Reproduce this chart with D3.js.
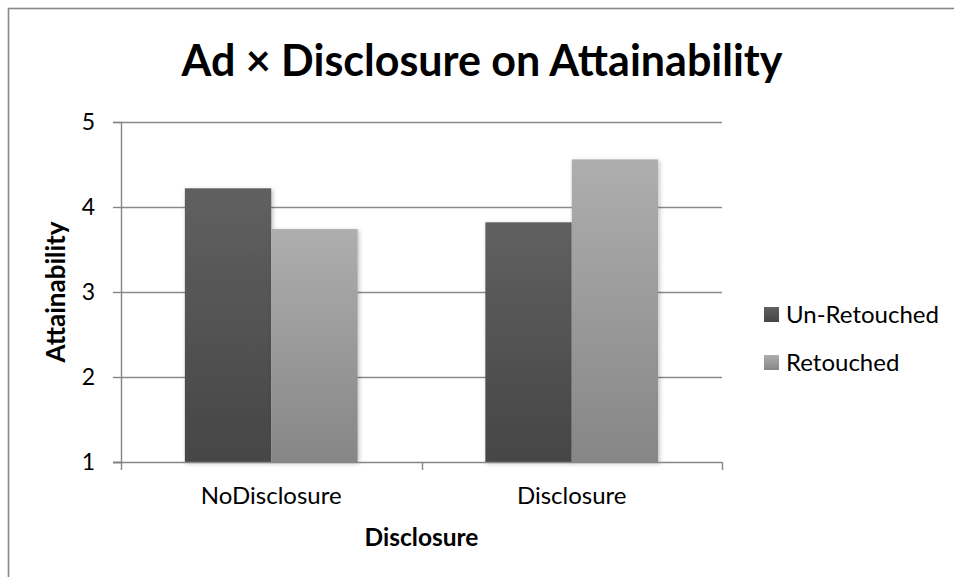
<!DOCTYPE html>
<html>
<head>
<meta charset="utf-8">
<script src="https://cdn.jsdelivr.net/npm/d3@7"></script>
<style>
  body { margin: 0; background: #fff; }
  svg { display: block; }
  text { font-family: Lato, "Open Sans", sans-serif; fill: #000; }
</style>
</head>
<body>
<svg id="chart" width="954" height="577"></svg>
<script>
// chart values
var categories = ["NoDisclosure", "Disclosure"];
var seriesNames = ["Un-Retouched", "Retouched"];
var unRetouched = [4.22, 3.82];
var retouched = [3.74, 4.56];
var yTicks = [1, 2, 3, 4, 5];

var svg = d3.select("#chart");
var margin = {left: 121, right: 232, top: 122, bottom: 115};
var width = 954 - margin.left - margin.right,
    height = 577 - margin.top - margin.bottom;

var rows = categories.map(function(c, i) {
  return {cat: c, values: [unRetouched[i], retouched[i]]};
});

// gradients + shadow
var defs = svg.append("defs");
var grads = [["gDark", "#606060", "#464646"], ["gLight", "#aeaeae", "#868686"]];
grads.forEach(function(g) {
  var lg = defs.append("linearGradient").attr("id", g[0])
      .attr("x1", 0).attr("y1", 0).attr("x2", 0).attr("y2", 1);
  lg.append("stop").attr("offset", "0%").attr("stop-color", g[1]);
  lg.append("stop").attr("offset", "100%").attr("stop-color", g[2]);
});
var f = defs.append("filter").attr("id", "shadow")
    .attr("x", "-10%").attr("y", "-10%").attr("width", "130%").attr("height", "130%");
f.append("feDropShadow").attr("dx", 1.5).attr("dy", 1.5).attr("stdDeviation", 2)
    .attr("flood-color", "#000").attr("flood-opacity", 0.25);
var fills = ["url(#gDark)", "url(#gLight)"];

// outer frame
svg.append("rect")
    .attr("x", 8.5).attr("y", 8.5).attr("width", 980).attr("height", 620)
    .attr("fill", "none").attr("stroke", "#878787").attr("stroke-width", 1.6);

// title
svg.append("text")
    .attr("x", 482).attr("y", 76)
    .attr("text-anchor", "middle")
    .attr("font-weight", "bold")
    .attr("font-size", 43)
    .text("Ad \u00d7 Disclosure on Attainability");

var g = svg.append("g").attr("transform", "translate(" + margin.left + "," + margin.top + ")");

var y = d3.scaleLinear().domain([1, 5]).range([height, 0]);
var x = d3.scaleBand().domain(categories).range([0, width])
    .paddingInner(0.425).paddingOuter(0.2125);
var xs = d3.scaleBand().domain(seriesNames).range([0, x.bandwidth()]);

// gridlines
g.append("g").selectAll("line")
  .data(yTicks.slice(1))
  .enter().append("line")
    .attr("x1", 0).attr("x2", width)
    .attr("y1", function(d) { return Math.round(y(d)) + 0.5; })
    .attr("y2", function(d) { return Math.round(y(d)) + 0.5; })
    .attr("stroke", "#8a8a8a").attr("stroke-width", 1.4);

// bars
var groups = g.append("g").selectAll("g")
  .data(rows)
  .enter().append("g")
    .attr("transform", function(d) { return "translate(" + x(d.cat) + ",0)"; });

groups.selectAll("rect")
  .data(function(d) { return d.values.map(function(v, i) { return {key: seriesNames[i], value: v, i: i}; }); })
  .enter().append("rect")
    .attr("x", function(d) { return xs(d.key); })
    .attr("width", xs.bandwidth())
    .attr("y", function(d) { return y(d.value); })
    .attr("height", function(d) { return y(1) - y(d.value); })
    .attr("fill", function(d) { return fills[d.i]; })
    .attr("filter", "url(#shadow)");

// y axis
var yAxis = g.append("g")
    .call(d3.axisLeft(y).tickValues(yTicks).tickSize(8).tickPadding(18).tickFormat(d3.format("d")));
yAxis.select(".domain").attr("stroke", "#868686").attr("stroke-width", 1.4);
yAxis.selectAll(".tick line").attr("stroke", "#868686").attr("stroke-width", 1.4);
yAxis.selectAll(".tick text")
    .attr("font-size", 23).attr("font-family", "Lato, 'Open Sans', sans-serif").attr("fill", "#000");

// x axis
var xAxis = g.append("g")
    .attr("transform", "translate(0," + height + ")");
xAxis.append("line")
    .attr("x1", -8).attr("x2", width).attr("y1", 0.5).attr("y2", 0.5)
    .attr("stroke", "#868686").attr("stroke-width", 1.4);
var bounds = [0].concat(categories.map(function(c) { return x(c) + x.bandwidth() + x.step() * x.paddingInner() / 2; }));
xAxis.selectAll(".xt")
  .data(bounds)
  .enter().append("line")
    .attr("class", "xt")
    .attr("x1", function(d) { return Math.round(d) + 0.5; })
    .attr("x2", function(d) { return Math.round(d) + 0.5; })
    .attr("y1", 0).attr("y2", 8)
    .attr("stroke", "#868686").attr("stroke-width", 1.4);
xAxis.selectAll(".xl")
  .data(categories)
  .enter().append("text")
    .attr("class", "xl")
    .attr("x", function(d) { return x(d) + x.bandwidth() / 2; })
    .attr("y", 42)
    .attr("text-anchor", "middle")
    .attr("font-size", 24)
    .text(function(d) { return d; });

// axis titles
svg.append("text")
    .attr("x", margin.left + width / 2).attr("y", 546)
    .attr("text-anchor", "middle")
    .attr("font-weight", "bold").attr("font-size", 24.5)
    .text("Disclosure");

svg.append("text")
    .attr("transform", "translate(65," + (margin.top + height / 2) + ") rotate(-90)")
    .attr("text-anchor", "middle")
    .attr("font-weight", "bold").attr("font-size", 26)
    .text("Attainability");

// legend
var legend = svg.append("g").attr("transform", "translate(764,0)");
var legY = [323, 371];
var li = legend.selectAll("g")
  .data(seriesNames)
  .enter().append("g")
    .attr("transform", function(d, i) { return "translate(0," + legY[i] + ")"; });
li.append("rect")
    .attr("x", 0).attr("y", -16).attr("width", 15).attr("height", 15)
    .attr("fill", function(d, i) { return fills[i]; });
li.append("text")
    .attr("x", 22).attr("y", 0)
    .attr("font-size", 24)
    .text(function(d) { return d; });
</script>
</body>
</html>
